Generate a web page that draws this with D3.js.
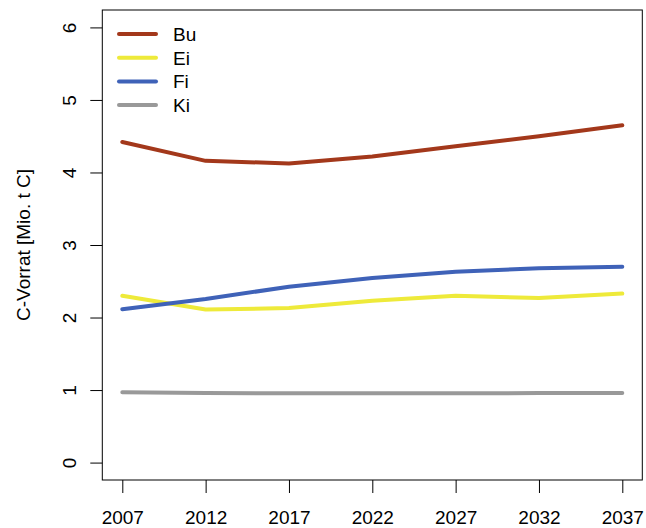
<!DOCTYPE html>
<html>
<head>
<meta charset="utf-8">
<script src="https://cdn.jsdelivr.net/npm/d3@7"></script>
<style>
  html, body { margin: 0; padding: 0; background: #fff; }
  svg { display: block; }
  text { font-family: "Liberation Sans", Arial, sans-serif; font-size: 19px; fill: #000; }
</style>
</head>
<body>
<svg id="chart" width="646" height="528"></svg>
<script>
const years = [2007, 2012, 2017, 2022, 2027, 2032, 2037];
const seriesNames = ["Bu", "Ei", "Fi", "Ki"];
const seriesColors = ["#a3381b", "#eeea3a", "#3f62b8", "#999999"];
const bu = [4.42, 4.16, 4.125, 4.22, 4.36, 4.50, 4.65];
const ei = [2.30, 2.11, 2.13, 2.23, 2.30, 2.27, 2.33];
const fi = [2.115, 2.255, 2.425, 2.545, 2.63, 2.68, 2.70];
const ki = [0.97, 0.96, 0.955, 0.957, 0.957, 0.958, 0.96];
const yTicks = [0, 1, 2, 3, 4, 5, 6];
const yLabel = "C-Vorrat [Mio. t C]";

const seriesValues = [bu, ei, fi, ki];

const svg = d3.select("#chart");
const box = { left: 102.3, right: 642.3, top: 10, bottom: 480 };

const x = d3.scaleLinear().domain([2007 - 1.2, 2037 + 1.2]).range([box.left, box.right]);
const y = d3.scaleLinear().domain([-0.24, 6.24]).range([box.bottom, box.top]);

// Box
svg.append("rect")
  .attr("x", box.left).attr("y", box.top)
  .attr("width", box.right - box.left).attr("height", box.bottom - box.top)
  .attr("fill", "none").attr("stroke", "#000").attr("stroke-width", 1);

// Bottom axis
const xAxis = d3.axisBottom(x).tickValues(years).tickFormat(d3.format("d")).tickSize(13).tickPadding(0);
const gx = svg.append("g").attr("transform", `translate(0,${box.bottom})`).call(xAxis);
gx.select(".domain").remove();
gx.selectAll(".tick line").attr("stroke", "#000");
gx.selectAll(".tick text").attr("y", 43.5).attr("dy", null).style("font-size", "19px")
  .attr("font-family", "Liberation Sans, Arial, sans-serif");

// Left axis
const yAxis = d3.axisLeft(y).tickValues(yTicks).tickFormat(d3.format("d")).tickSize(12).tickPadding(0);
const gy = svg.append("g").attr("transform", `translate(${box.left},0)`).call(yAxis);
gy.select(".domain").remove();
gy.selectAll(".tick line").attr("stroke", "#000");
gy.selectAll(".tick text")
  .attr("x", null).attr("dy", null)
  .attr("text-anchor", "middle")
  .attr("transform", "translate(-26,0) rotate(-90)")
  .style("font-size", "19px");

// Y label
svg.append("text")
  .attr("transform", `translate(29.5,${(box.top + box.bottom) / 2}) rotate(-90)`)
  .attr("text-anchor", "middle")
  .text(yLabel);

// Lines
const line = d3.line().x((d, i) => x(years[i])).y(d => y(d));
seriesValues.forEach((vals, k) => {
  svg.append("path")
    .datum(vals)
    .attr("d", line)
    .attr("fill", "none")
    .attr("stroke", seriesColors[k])
    .attr("stroke-width", 4)
    .attr("stroke-linecap", "round")
    .attr("stroke-linejoin", "round");
});

// Legend
const legY0 = 34, legDy = 23.7;
seriesNames.forEach((name, k) => {
  const ly = legY0 + k * legDy;
  svg.append("line")
    .attr("x1", 119).attr("x2", 156).attr("y1", ly).attr("y2", ly)
    .attr("stroke", seriesColors[k]).attr("stroke-width", 4).attr("stroke-linecap", "round");
  svg.append("text").attr("x", 173).attr("y", ly + 6.8).text(name);
});
</script>
</body>
</html>
